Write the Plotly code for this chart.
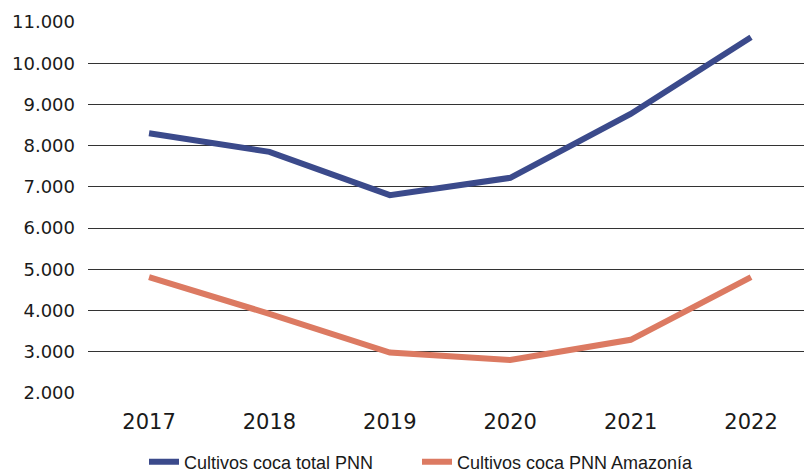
import plotly.graph_objects as go

# Coca cultivation in national natural parks (hectares)
years = [2017, 2018, 2019, 2020, 2021, 2022]
total_pnn = [8300, 7850, 6800, 7220, 8770, 10630]
amazonia_pnn = [4810, 3920, 2980, 2800, 3290, 4810]
y_ticks = [2000, 3000, 4000, 5000, 6000, 7000, 8000, 9000, 10000, 11000]

BLUE = "#3B4A8B"
ORANGE = "#DC7A62"
TEXT = "#1a1a1a"

fig = go.Figure()
fig.add_trace(go.Scatter(
    x=years, y=total_pnn, mode="lines", name="Cultivos coca total PNN",
    line=dict(color=BLUE, width=6), legend="legend",
))
fig.add_trace(go.Scatter(
    x=years, y=amazonia_pnn, mode="lines", name="Cultivos coca PNN Amazonía",
    line=dict(color=ORANGE, width=6), legend="legend2",
))

legend_common = dict(
    orientation="h", xref="container", yref="container",
    yanchor="middle", xanchor="left", bgcolor="rgba(0,0,0,0)",
    font=dict(family="Liberation Sans", size=18, color=TEXT),
)

fig.update_layout(
    width=804, height=474,
    margin=dict(l=88, r=0, t=22, b=81),
    paper_bgcolor="white", plot_bgcolor="white",
    separators=",.",
    showlegend=True,
    legend=dict(x=144 / 804, y=1 - 462 / 474, **legend_common),
    legend2=dict(x=417 / 804, y=1 - 462 / 474, **legend_common),
    xaxis=dict(
        range=[2016.493, 2022.44], tickvals=years, ticktext=[str(y) for y in years],
        showgrid=False, zeroline=False, showline=False,
        tickfont=dict(family="DejaVu Sans", size=21, color=TEXT),
        ticklabelstandoff=14,
    ),
    yaxis=dict(
        range=[2000, 11000], tickvals=y_ticks, tickformat=",d",
        showgrid=True, gridcolor="#333333", gridwidth=1,
        zeroline=False, showline=False,
        tickfont=dict(family="DejaVu Sans", size=18, color=TEXT),
        ticklabelstandoff=12,
    ),
)

fig.write_html("out.html")
